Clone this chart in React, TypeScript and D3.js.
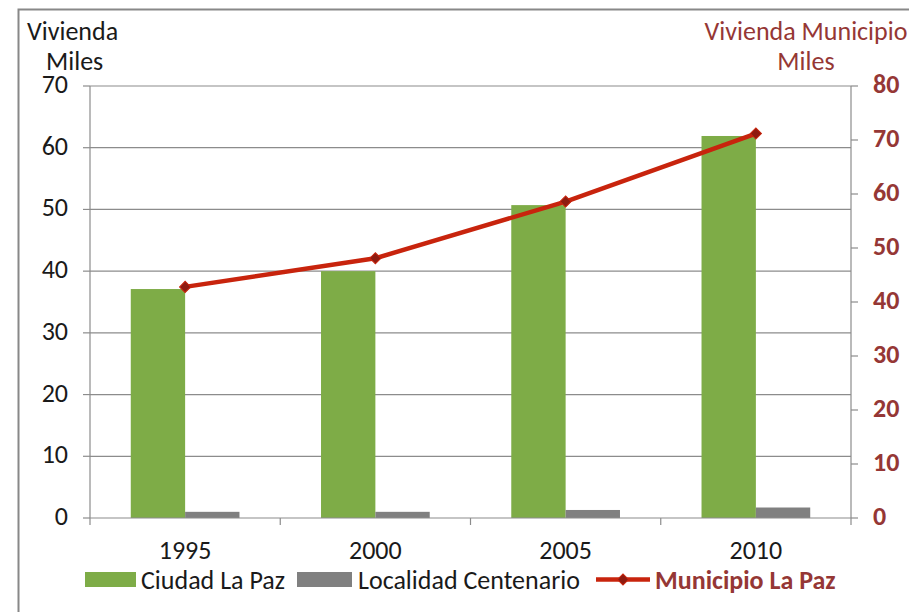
import React from "react";
import * as d3 from "d3";

const years = ["1995", "2000", "2005", "2010"];
const ciudadLaPaz = [37.1, 40.0, 50.7, 61.9];
const localidadCentenario = [1.0, 1.0, 1.3, 1.7];
const municipioLaPaz = [42.8, 48.1, 58.6, 71.2];
const leftTicks = [0, 10, 20, 30, 40, 50, 60, 70];
const rightTicks = [0, 10, 20, 30, 40, 50, 60, 70, 80];

const W = 909;
const H = 612;
const plot = { left: 90, right: 851, top: 86, bottom: 518 };
const FONT = "Carlito, Calibri, 'Open Sans', sans-serif";
const FS = 26;
const GREEN = "#7EAC47";
const GRAY = "#808080";
const RED = "#C8240D";
const DARK_RED = "#8E1B10";
const AXIS_RED = "#953735";

export default function App() {
  const x = d3.scaleBand<string>().domain(years).range([plot.left, plot.right]);
  const yL = d3.scaleLinear().domain([0, 70]).range([plot.bottom, plot.top]);
  const yR = d3.scaleLinear().domain([0, 80]).range([plot.bottom, plot.top]);
  const barW = x.bandwidth() / 3.5;
  const center = (c: string) => (x(c) as number) + x.bandwidth() / 2;

  const line = d3
    .line<number>()
    .x((_, i) => center(years[i]))
    .y((d) => yR(d));

  // diamond marker: a square turned 45 degrees
  const marker = d3.symbol().type(d3.symbolSquare).size(62)() as string;

  return (
    <svg width={W} height={H} style={{ position: "absolute", left: 0, top: 0, display: "block" }}>
      <rect x={0} y={0} width={W} height={H} fill="#fff" />
      {/* chart frame */}
      <path d={`M18.5,${H + 5} L18.5,9.5 L${W + 5},9.5`} fill="none" stroke="#888" strokeWidth={2} />

      {/* gridlines */}
      {leftTicks.slice(1).map((t) => (
        <line key={"g" + t} x1={plot.left} x2={plot.right} y1={yL(t)} y2={yL(t)} stroke="#8c8c8c" strokeWidth={1.2} />
      ))}

      {/* bars */}
      {years.map((c, i) => (
        <g key={"b" + c}>
          <rect x={center(c) - barW} y={yL(ciudadLaPaz[i])} width={barW} height={plot.bottom - yL(ciudadLaPaz[i])} fill={GREEN} />
          <rect x={center(c)} y={yL(localidadCentenario[i])} width={barW} height={plot.bottom - yL(localidadCentenario[i])} fill={GRAY} />
        </g>
      ))}

      {/* axes */}
      <line x1={plot.left} x2={plot.left} y1={plot.top} y2={plot.bottom} stroke="#8c8c8c" strokeWidth={1.2} />
      <line x1={plot.right} x2={plot.right} y1={plot.top} y2={plot.bottom} stroke="#8c8c8c" strokeWidth={1.2} />
      <line x1={plot.left} x2={plot.right} y1={plot.bottom} y2={plot.bottom} stroke="#8c8c8c" strokeWidth={1.2} />
      {leftTicks.map((t) => (
        <g key={"l" + t}>
          <line x1={plot.left - 7} x2={plot.left} y1={yL(t)} y2={yL(t)} stroke="#8c8c8c" strokeWidth={1.2} />
          <text x={68} y={yL(t) + 7} textAnchor="end" fontFamily={FONT} fontSize={FS} fill="#1a1a1a">{t}</text>
        </g>
      ))}
      {rightTicks.map((t) => (
        <g key={"r" + t}>
          <line x1={plot.right} x2={plot.right + 7} y1={yR(t)} y2={yR(t)} stroke="#8c8c8c" strokeWidth={1.2} />
          <text x={873} y={yR(t) + 7} textAnchor="start" fontFamily={FONT} fontSize={FS} fontWeight="bold" fill={AXIS_RED}>{t}</text>
        </g>
      ))}
      {x.domain().concat(["end"]).map((c, i) => {
        const px = plot.left + i * x.bandwidth();
        return <line key={"xt" + i} x1={px} x2={px} y1={plot.bottom} y2={plot.bottom + 7} stroke="#8c8c8c" strokeWidth={1.2} />;
      })}
      {years.map((c) => (
        <text key={"xl" + c} x={center(c)} y={559} textAnchor="middle" fontFamily={FONT} fontSize={FS} fill="#1a1a1a">{c}</text>
      ))}

      {/* line series */}
      <path d={line(municipioLaPaz) as string} fill="none" stroke={RED} strokeWidth={4.5} strokeLinejoin="round" />
      {municipioLaPaz.map((v, i) => (
        <path key={"m" + i} d={marker} transform={`translate(${center(years[i])},${yR(v)}) rotate(45)`} fill={DARK_RED} stroke={RED} strokeWidth={1} />
      ))}

      {/* axis titles */}
      <text x={27} y={40} fontFamily={FONT} fontSize={FS} fill="#1a1a1a">Vivienda</text>
      <text x={46} y={70} fontFamily={FONT} fontSize={FS} fill="#1a1a1a">Miles</text>
      <text x={806} y={40} textAnchor="middle" fontFamily={FONT} fontSize={FS} fill={AXIS_RED}>Vivienda Municipio</text>
      <text x={806} y={70} textAnchor="middle" fontFamily={FONT} fontSize={FS} fill={AXIS_RED}>Miles</text>

      {/* legend */}
      <rect x={85} y={572} width={51} height={15} fill={GREEN} />
      <text x={141} y={589} fontFamily={FONT} fontSize={FS} fill="#1a1a1a">Ciudad La Paz</text>
      <rect x={297} y={572} width={55} height={15} fill={GRAY} />
      <text x={358} y={589} fontFamily={FONT} fontSize={FS} fill="#1a1a1a">Localidad Centenario</text>
      <line x1={596} x2={650} y1={579.5} y2={579.5} stroke={RED} strokeWidth={4.5} />
      <path d={marker} transform="translate(623,579.5) rotate(45)" fill={DARK_RED} stroke={RED} strokeWidth={1} />
      <text x={655} y={589} fontFamily={FONT} fontSize={FS} fontWeight="bold" fill={AXIS_RED}>Municipio La Paz</text>
    </svg>
  );
}
